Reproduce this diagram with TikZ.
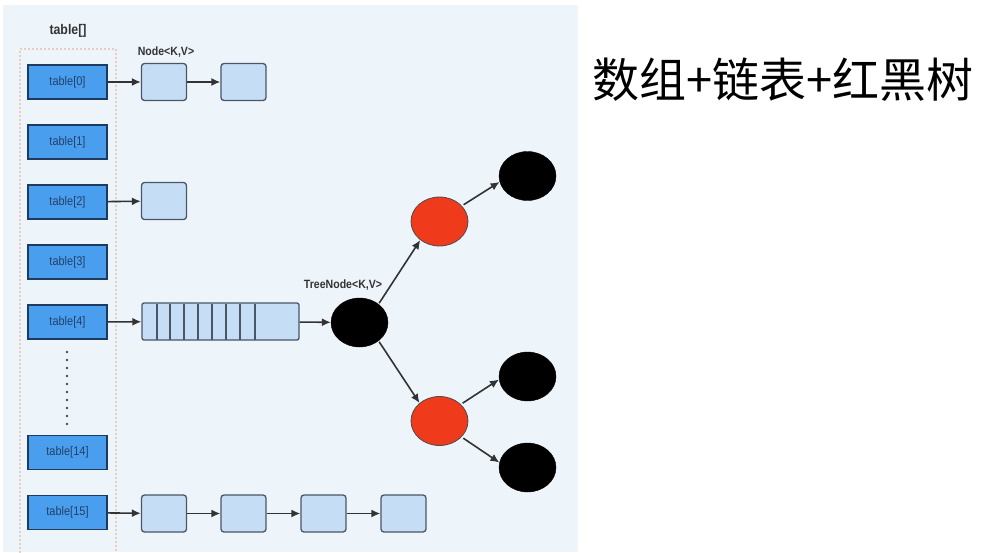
\documentclass[tikz,border=0pt]{standalone}
\usepackage{fontspec}
\setmainfont{Liberation Sans}
\newfontfamily\cjk{Noto Sans CJK SC}
\newfontfamily\lblfont[FakeStretch=0.88]{Liberation Sans}
\usetikzlibrary{arrows.meta,shapes.geometric}
\definecolor{panelbg}{HTML}{EEF5FA}
\definecolor{cellfill}{HTML}{4A9EEE}
\definecolor{celldraw}{HTML}{1E3A60}
\definecolor{celltext}{HTML}{23406A}
\definecolor{nodefill}{HTML}{C6DDF6}
\definecolor{nodedraw}{HTML}{4A5668}
\definecolor{redfill}{HTML}{F03A1C}
\definecolor{dotcol}{HTML}{E6A082}
\definecolor{arrowcol}{HTML}{333333}
\tikzset{
  cell/.style={draw=celldraw, line width=1.4pt, fill=cellfill, minimum width=79pt, minimum height=34pt, inner sep=0pt, font=\lblfont\fontsize{12.5}{14}\selectfont, text=celltext},
  lnode/.style={draw=nodedraw, line width=1.3pt, fill=nodefill, rounded corners=3pt, minimum width=45pt, minimum height=37pt, inner sep=0pt},
  blk/.style={ellipse, draw=black, fill=black, minimum width=57pt, minimum height=49pt, inner sep=0pt},
  rednode/.style={ellipse, draw=black!70, line width=0.8pt, fill=redfill, minimum width=57pt, minimum height=49pt, inner sep=0pt},
  conn/.style={draw=arrowcol, line width=1.6pt, -{Latex[length=9pt,width=8pt]}},
  lbl/.style={font=\lblfont\bfseries\fontsize{12}{14}\selectfont, text=black!80, inner sep=0pt}
}
\begin{document}
\begin{tikzpicture}[x=1pt,y=-1pt]
\useasboundingbox (0,0) rectangle (986,552);
\fill[white] (0,0) rectangle (986,552);
\fill[panelbg] (3,5) rectangle (578,552);
% dotted frame
\draw[dotcol, line width=1.8pt, line cap=round, dash pattern=on 0pt off 4pt] (20,552) -- (20,49) -- (116,49) -- (116,552);
% labels
\node[lbl, font=\lblfont\bfseries\fontsize{14}{16}\selectfont] (tlabel) at (68,31) {table[]};
\node[lbl] (nlabel) at (166,52) {Node<K,V>};
\node[lbl] (trlabel) at (343,285) {TreeNode<K,V>};
% table cells
\node[cell] (t0) at (67.5,82) {table[0]};
\node[cell] (t1) at (67.5,142) {table[1]};
\node[cell] (t2) at (67.5,202) {table[2]};
\node[cell] (t3) at (67.5,262) {table[3]};
\node[cell] (t4) at (67.5,322) {table[4]};
\node[cell] (t14) at (67.5,452.5) {table[14]};
\node[cell] (t15) at (67.5,512.5) {table[15]};
% vertical dots
\foreach \yy in {352,360,368,376,384,392,400,408,416,424}
  \fill[black!70] (67,\yy) circle (1.4pt);
% linked lists
\node[lnode] (n00) at (164,82) {};
\node[lnode] (n01) at (243.5,82) {};
\node[lnode] (n20) at (164,201) {};
\node[lnode] (n150) at (164,513.5) {};
\node[lnode] (n151) at (243.5,513.5) {};
\node[lnode] (n152) at (323.5,513.5) {};
\node[lnode] (n153) at (403.5,513.5) {};
% long list at table[4]
\node[lnode, minimum width=157pt, rounded corners=2pt] (lst) at (220.5,321.5) {};
\foreach \xx in {157,170,184,198,212,226,240,255}
  \draw[nodedraw, line width=1.2pt] (\xx,303.5) -- (\xx,339.5);
% tree
\node[blk] (root) at (359.5,322.5) {};
\node[rednode] (r1) at (439.5,221.5) {};
\node[rednode] (r2) at (439.5,421) {};
\node[blk] (b1) at (527.5,176) {};
\node[blk] (b2) at (527.5,376.5) {};
\node[blk] (b3) at (527.5,467.5) {};
% connectors
\draw[conn] (t0) -- (n00);
\draw[conn] (n00) -- (n01);
\draw[conn] (t2) -- (n20);
\draw[conn] (t4) -- (lst);
\draw[conn] (lst) -- (root);
\draw[conn] (t15) -- (n150);
\draw[conn] (n150) -- (n151);
\draw[conn] (n151) -- (n152);
\draw[conn] (n152) -- (n153);
\draw[conn, shorten <=1pt] (root.44) -- (r1.224);
\draw[conn, shorten <=1pt] (root.-44) -- (r2.138);
\draw[conn, shorten <=2pt] (r1.35) -- (b1.192);
\draw[conn, shorten <=2pt] (r2.38) -- (b2.186);
\draw[conn, shorten <=2pt] (r2.-36) -- (b3.170);
% title
\node[font=\cjk\fontsize{47}{52}\selectfont, inner sep=0pt] (title) at (783,80) {数组+链表+红黑树};
\end{tikzpicture}
\end{document}
